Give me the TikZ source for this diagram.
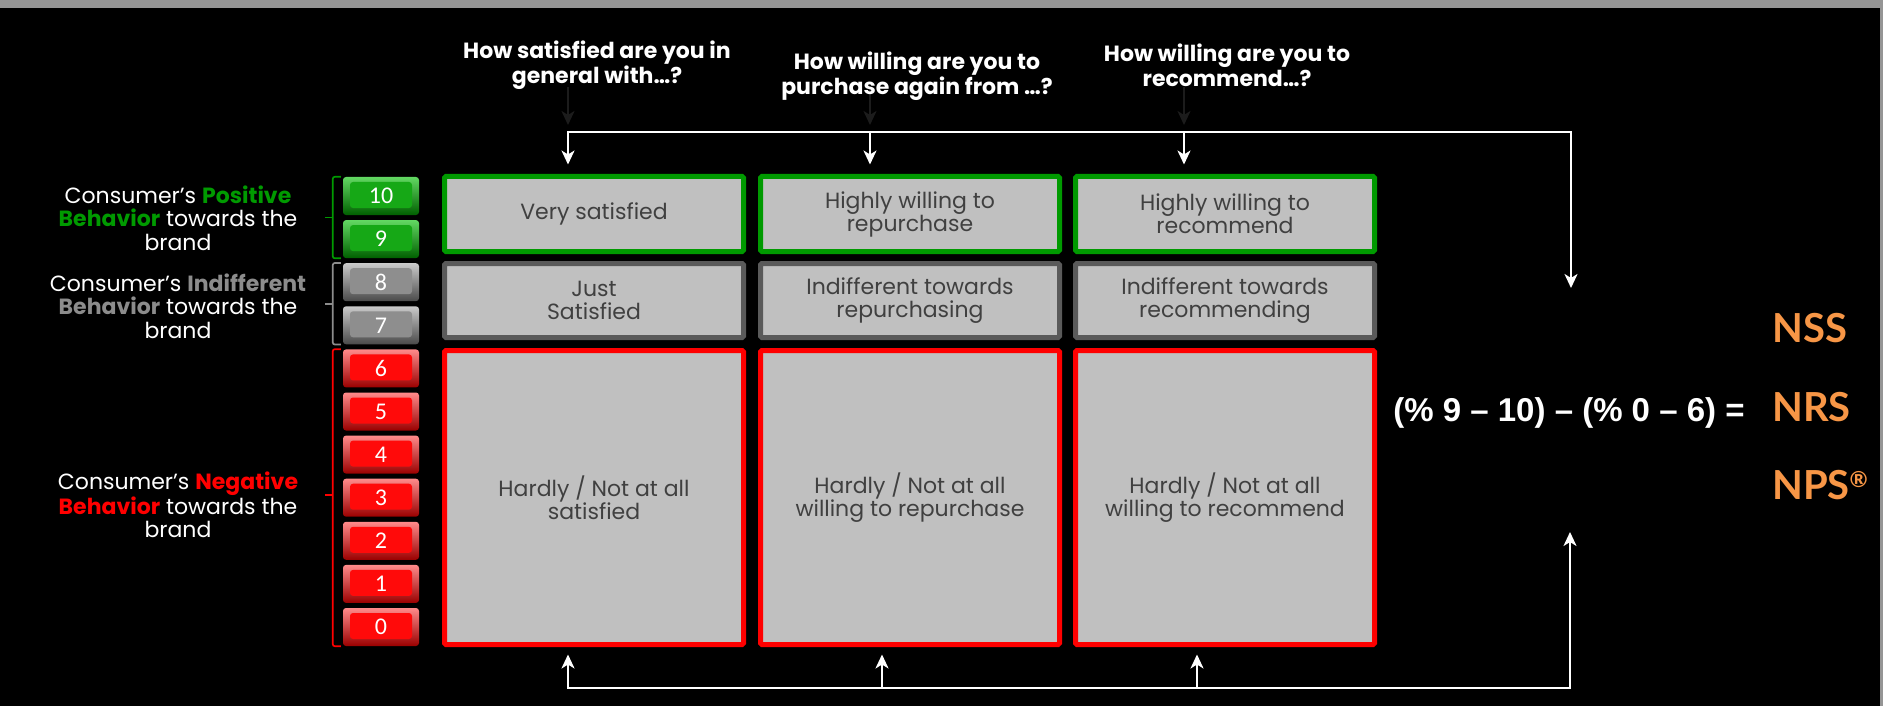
\documentclass[tikz,border=0pt]{standalone}
\usepackage{fontspec}
\setmainfont{Poppins}
\newfontfamily\keyfont{Carlito}
\newfontfamily\arialfont{Liberation Sans}
\newfontfamily\scorefont{Lato}
\usepackage{tikz}
\usetikzlibrary{positioning, arrows.meta, calc}
\definecolor{slidegray}{HTML}{959595}
\definecolor{posgreen}{HTML}{009A00}
\definecolor{indgray}{HTML}{5A5A5A}
\definecolor{indtext}{HTML}{8C8C8C}
\definecolor{negred}{HTML}{FF0000}
\definecolor{cellfill}{HTML}{C0C0C0}
\definecolor{celltext}{HTML}{404040}
\definecolor{scoreorange}{HTML}{F79646}
\definecolor{darkarrow}{HTML}{1C1C1C}
\definecolor{keygreen}{HTML}{16A816}
\definecolor{keygreenhi}{HTML}{62D862}
\definecolor{keygreenlo}{HTML}{006000}
\definecolor{keygray}{HTML}{8E8E8E}
\definecolor{keygrayhi}{HTML}{CACACA}
\definecolor{keygraylo}{HTML}{4A4A4A}
\definecolor{keyred}{HTML}{FF0A0A}
\definecolor{keyredhi}{HTML}{FF8A8A}
\definecolor{keyredlo}{HTML}{9A0000}

\tikzset{
  cell/.style={fill=cellfill, line width=5pt, rounded corners=1.5pt, minimum width=299pt,
               inner sep=0pt, text=celltext, align=center, font=\fontsize{22}{23}\selectfont},
  question/.style={text=white, align=center, font=\bfseries\fontsize{22}{25}\selectfont},
  behav/.style={text=white, align=center, font=\fontsize{22}{23.5}\selectfont},
  numkey/.style={minimum width=76pt, minimum height=38pt, inner sep=0pt, rounded corners=3pt,
                 text=white, font=\keyfont\fontsize{24}{24}\selectfont,
                 top color=key#1hi, bottom color=key#1lo,
                 path picture={\fill[key#1] ([xshift=7pt,yshift=-5pt]path picture bounding box.north west)
                   rectangle ([xshift=-7pt,yshift=7pt]path picture bounding box.south east);}},
  bracket/.style={line width=1.7pt, rounded corners=2pt},
  wire/.style={white, line width=2.2pt, -{Stealth[length=14pt, width=13pt, inset=4pt]}},
  bus/.style={white, line width=2.2pt, line cap=rect},
  hint/.style={darkarrow, line width=2.2pt, -{Stealth[length=14pt, width=13pt, inset=4pt]}},
  score/.style={text=scoreorange, anchor=west, inner sep=0pt, font=\scorefont\bfseries\fontsize{40}{40}\selectfont},
}

\begin{document}
\begin{tikzpicture}[x=1pt, y=-1pt]
  \useasboundingbox (0,0) rectangle (1883,706);
  \fill[black] (0,0) rectangle (1883,706);
  \fill[slidegray] (0,0) rectangle (1883,8);
  \fill[slidegray] (1880,0) rectangle (1883,706);

  % bus lines
  \coordinate (tsat) at (568,132);
  \coordinate (tbuy) at (870,132);
  \coordinate (trec) at (1184,132);
  \coordinate (tout) at (1571,132);
  \coordinate (fin) at (1571,288);
  \coordinate (bsat) at (568,688);
  \coordinate (bbuy) at (882,688);
  \coordinate (brec) at (1197,688);
  \coordinate (bout) at (1570,688);
  \coordinate (fout) at (1570,532);

  % questions
  \foreach \t in {tsat, tbuy, trec}
    \draw[hint] ([yshift=45pt]\t) -- ([yshift=7pt]\t);
  \node[question] (qsat) at (597,65) {How satisfied are you in\\general with…?};
  \node[question] (qbuy) at (917,76) {How willing are you to\\purchase again from …?};
  \node[question] (qrec) at (1227,65) {How willing are you to\\recommend…?};

  % answer cells
  \node[cell, draw=posgreen, minimum height=75pt] (satpos) at (594,214) {Very satisfied};
  \node[cell, draw=posgreen, minimum height=75pt] (buypos) at (910,214) {Highly willing to\\repurchase};
  \node[cell, draw=posgreen, minimum height=75pt] (recpos) at (1225,214) {Highly willing to\\recommend};
  \node[cell, draw=indgray, minimum height=74pt] (satind) at (594,300.5) {Just\\Satisfied};
  \node[cell, draw=indgray, minimum height=74pt] (buyind) at (910,300.5) {Indifferent towards\\repurchasing};
  \node[cell, draw=indgray, minimum height=74pt] (recind) at (1225,300.5) {Indifferent towards\\recommending};
  \node[cell, draw=negred, minimum height=294pt] (satneg) at (594,497.5) {Hardly / Not at all\\satisfied};
  \node[cell, draw=negred, minimum height=294pt] (buyneg) at (910,497.5) {Hardly / Not at all\\willing to repurchase};
  \node[cell, draw=negred, minimum height=294pt] (recneg) at (1225,497.5) {Hardly / Not at all\\willing to recommend};

  % scale keys
  \foreach \n/\k/\c in {10/0/green, 9/1/green, 8/2/gray, 7/3/gray, 6/4/red, 5/5/red,
                        4/6/red, 3/7/red, 2/8/red, 1/9/red, 0/10/red}
    \node[numkey=\c] (key\n) at (381,{196+43.1*\k}) {\n};

  \draw[bracket, posgreen] ([xshift=-2pt]key10.north west) -- ++(-8,0) |- ([xshift=-2pt]key9.south west);
  \draw[bracket, posgreen] ($(key10.south west)!0.5!(key9.north west)+(-10,0)$) -- ++(-8,0);
  \draw[bracket, indtext] ([xshift=-2pt]key8.north west) -- ++(-8,0) |- ([xshift=-2pt]key7.south west);
  \draw[bracket, indtext] ($(key8.south west)!0.5!(key7.north west)+(-10,0)$) -- ++(-8,0);
  \draw[bracket, negred] ([xshift=-2pt]key6.north west) -- ++(-8,0) |- ([xshift=-2pt]key0.south west);
  \draw[bracket, negred] ([xshift=-10pt,yshift=3pt]key3.west) -- ++(-8,0);

  \node[behav] (pos) at (178,218) {Consumer’s \textbf{\textcolor{posgreen}{Positive}}\\\textbf{\textcolor{posgreen}{Behavior}} towards the\\brand};
  \node[behav] (ind) at (178,306) {Consumer’s \textbf{\textcolor{indtext}{Indifferent}}\\\textbf{\textcolor{indtext}{Behavior}} towards the\\brand};
  \node[behav] (neg) at (178,505) {Consumer’s \textbf{\textcolor{negred}{Negative}}\\\textbf{\textcolor{negred}{Behavior}} towards the\\brand};

  % formula and scores
  \node[text=white, font=\arialfont\bfseries\fontsize{33}{33}\selectfont] (fm) at (1569,413) {(\% 9 – 10) – (\% 0 – 6) =};
  \node[score] (nss) at (1772,328) {NSS};
  \node[score] (nrs) at (1772,407) {NRS};
  \node[score] (nps) at (1772,485) {NPS{\fontsize{22}{22}\selectfont\raisebox{12pt}{®}}};

  % connectors
  \draw[bus] (tsat) -- (tout);
  \draw[wire] (tout) -- (fin);
  \draw[wire] (tsat) -- ([yshift=9.5pt]tsat |- satpos.north);
  \draw[wire] (tbuy) -- ([yshift=9.5pt]tbuy |- buypos.north);
  \draw[wire] (trec) -- ([yshift=9.5pt]trec |- recpos.north);
  \draw[bus] (bsat) -- (bout);
  \draw[wire] (bout) -- (fout);
  \draw[wire] (bsat) -- ([yshift=-7.5pt]bsat |- satneg.south);
  \draw[wire] (bbuy) -- ([yshift=-7.5pt]bbuy |- buyneg.south);
  \draw[wire] (brec) -- ([yshift=-7.5pt]brec |- recneg.south);
\end{tikzpicture}
\end{document}
